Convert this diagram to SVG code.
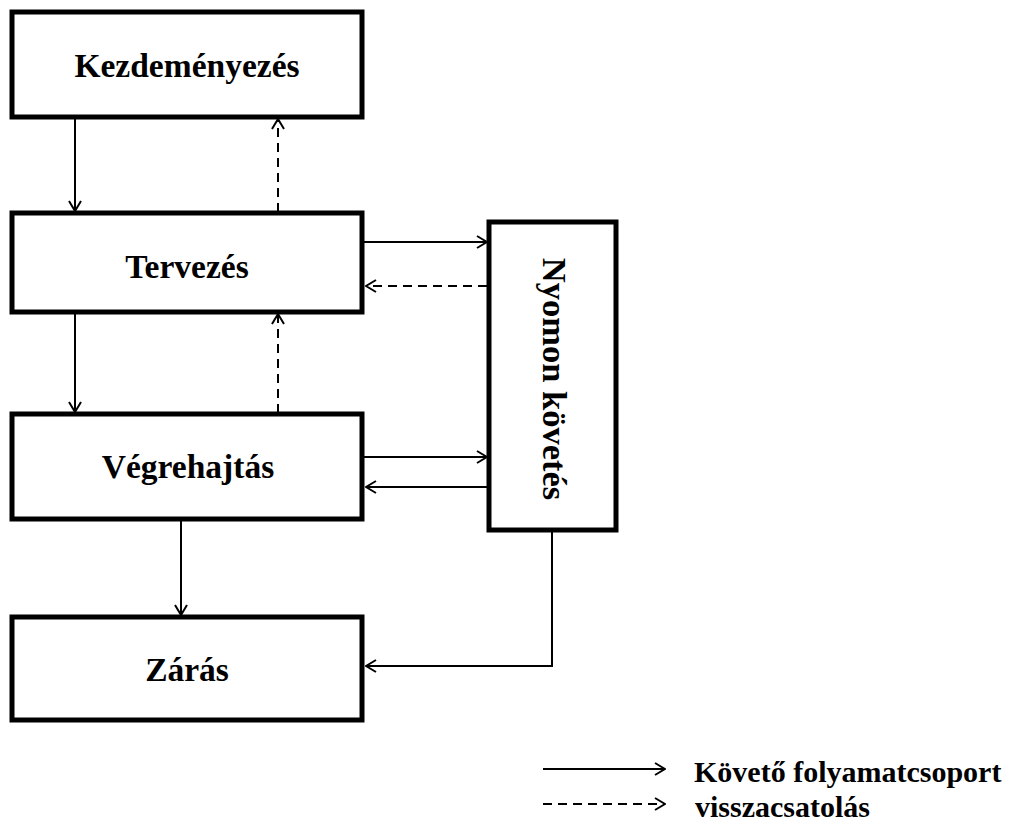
<svg xmlns="http://www.w3.org/2000/svg" width="1010" height="825" viewBox="0 0 1010 825">
  <style>
    .box { fill: #fff; stroke: #000; stroke-width: 5; }
    .lbl { font-family: "Liberation Serif", "Times New Roman", serif; font-weight: bold; font-size: 33.5px; fill: #000; text-anchor: middle; }
    .vert { font-size: 34.5px; }
    .leg { font-family: "Liberation Serif", "Times New Roman", serif; font-weight: bold; font-size: 30px; fill: #000; }
    .flow { fill: none; stroke: #000; stroke-width: 2; marker-end: url(#arrow); }
    .back { fill: none; stroke: #000; stroke-width: 2; stroke-dasharray: 9 6; marker-end: url(#arrow); }
  </style>
  <defs>
    <marker id="arrow" viewBox="0 0 12 14" refX="11" refY="7" markerWidth="12" markerHeight="14" markerUnits="userSpaceOnUse" orient="auto">
      <path d="M1,1 L11,7 L1,13" fill="none" stroke="#000" stroke-width="2"/>
    </marker>
  </defs>
  <rect width="1010" height="825" fill="#fff"/>

  <g id="connectors">
    <!-- forward flow between phases -->
    <line class="flow" x1="75" y1="117" x2="75" y2="211"/>
    <line class="flow" x1="75" y1="312" x2="75" y2="412"/>
    <line class="flow" x1="181" y1="519" x2="181" y2="615"/>
    <!-- feedback between phases -->
    <line class="back" x1="278" y1="212" x2="278" y2="119"/>
    <line class="back" x1="278" y1="413" x2="278" y2="314"/>
    <!-- exchange with monitoring -->
    <line class="flow" x1="364" y1="242" x2="487" y2="242"/>
    <line class="back" x1="487" y1="286" x2="366" y2="286"/>
    <line class="flow" x1="364" y1="457" x2="487" y2="457"/>
    <line class="flow" x1="487" y1="487" x2="366" y2="487"/>
    <polyline class="flow" points="552,531 552,666 366,666"/>
  </g>

  <g id="kezdemenyezes">
    <rect class="box" x="12" y="12" width="350" height="105"/>
    <text class="lbl" x="187" y="77">Kezdeményezés</text>
  </g>
  <g id="tervezes">
    <rect class="box" x="12" y="213" width="350" height="99"/>
    <text class="lbl" x="187" y="278">Tervezés</text>
  </g>
  <g id="vegrehajtas">
    <rect class="box" x="12" y="414" width="350" height="105"/>
    <text class="lbl" x="188" y="478">Végrehajtás</text>
  </g>
  <g id="zaras">
    <rect class="box" x="12" y="617" width="350" height="103"/>
    <text class="lbl" x="187" y="681">Zárás</text>
  </g>
  <g id="nyomon-kovetes">
    <rect class="box" x="489" y="222" width="127" height="308"/>
    <text class="lbl vert" transform="translate(543 379) rotate(90)" x="0" y="0">Nyomon követés</text>
  </g>

  <g id="legend">
    <line class="flow" x1="543" y1="769" x2="665" y2="769"/>
    <text class="leg" x="694" y="782">Követő folyamatcsoport</text>
    <line class="back" x1="543" y1="804" x2="665" y2="804"/>
    <text class="leg" x="695" y="817">visszacsatolás</text>
  </g>
</svg>
